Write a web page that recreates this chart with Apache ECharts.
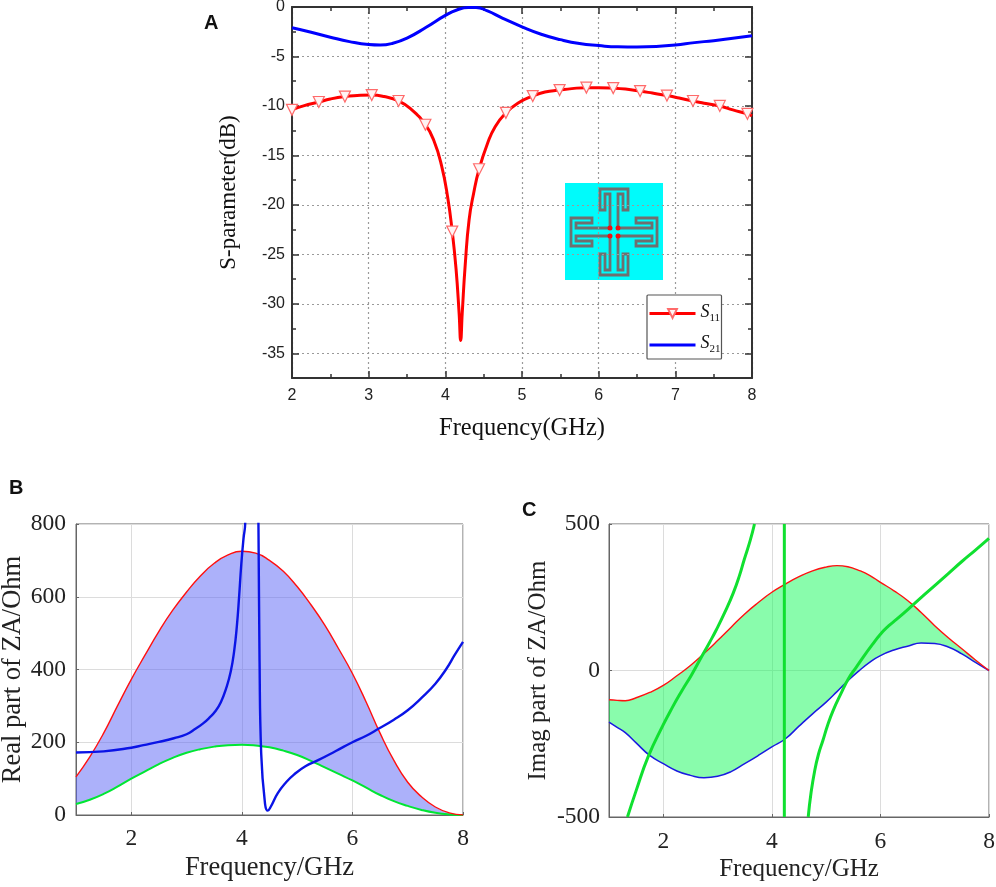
<!DOCTYPE html>
<html><head><meta charset="utf-8">
<style>html,body{margin:0;padding:0;background:#fff}#c{width:996px;height:887px}</style>
<script src="https://cdn.jsdelivr.net/npm/echarts@6/dist/echarts.min.js"></script>
</head><body><div id="c"></div>
<script>
// Panel A
const aS11Freq=[2,2.15,2.35,2.5,2.69,2.85,3.04,3.2,3.39,3.55,3.74,3.85,3.95,4.03,4.09,4.14,4.18,4.2,4.22,4.26,4.31,4.37,4.44,4.55,4.65,4.79,4.95,5.14,5.3,5.49,5.65,5.84,6,6.19,6.35,6.54,6.7,6.89,7.05,7.23,7.4,7.58,7.75,7.94,8];
const aS11=[-10.4,-10,-9.6,-9.3,-9.05,-8.95,-8.9,-9.05,-9.5,-10.3,-11.9,-13.5,-16,-19.2,-22.7,-26.5,-31,-33.7,-31,-26,-21.5,-18.8,-16.4,-13.8,-12.1,-10.7,-9.7,-9,-8.6,-8.4,-8.25,-8.15,-8.15,-8.2,-8.3,-8.5,-8.7,-8.95,-9.2,-9.5,-9.75,-10,-10.4,-10.8,-11];
const aMarkerFreq=[2,2.35,2.69,3.04,3.39,3.74,4.09,4.44,4.79,5.14,5.49,5.84,6.19,6.54,6.89,7.23,7.58,7.94];
const aS21Freq=[2,2.25,2.5,2.75,3,3.15,3.3,3.5,3.75,4,4.15,4.3,4.4,4.55,4.75,5,5.25,5.5,5.75,6,6.25,6.5,6.75,7,7.25,7.5,7.75,8];
const aS21=[-2.1,-2.55,-3.05,-3.5,-3.8,-3.85,-3.7,-3.15,-2.05,-0.85,-0.3,-0.05,-0.05,-0.4,-1.15,-2,-2.75,-3.3,-3.7,-3.9,-4.03,-4.05,-4,-3.85,-3.6,-3.4,-3.15,-2.9];
// Panel B
const bFreq=[1,1.25,1.5,1.75,2,2.25,2.5,2.75,3,3.25,3.5,3.75,4,4.25,4.5,4.75,5,5.25,5.5,5.75,6,6.25,6.5,6.75,7,7.25,7.5,7.75,8];
const bUpper=[105,160,225,300,373,440,505,563,613,657,692,715,725,720,700,670,628,578,522,457,389,310,225,150,90,50,22,6,0];
const bLower=[30,42,58,78,100,120,140,157,171,181,188,192,193,191,186,177,165,149,131,113,95,75,55,38,25,14,6,1.5,0];
const bLineFreq=[1,1.5,2,2.22,2.5,2.77,3,3.16,3.3,3.41,3.52,3.62,3.72,3.8,3.86,3.91,3.95,3.99,4.03,4.06,4.08,4.28,4.3,4.32,4.35,4.42,4.47,4.52,4.65,4.8,4.95,5.15,5.37,5.7,6,6.25,6.47,6.75,7,7.25,7.5,7.7,7.85,8];
const bLine=[172,175,185,192,201,211,222,237,252,267,285,310,350,395,450,520,600,690,760,800,1000,1000,800,425,168,30,12,22,60,90,112,134,150,176,200,218,237,262,288,322,361,402,440,476];
// Panel C
const cFreq=[1,1.15,1.3,1.5,1.75,2,2.25,2.5,2.75,3,3.25,3.5,3.75,4,4.25,4.5,4.75,5,5.2,5.4,5.6,5.8,6,6.25,6.5,6.75,7,7.25,7.5,7.75,8];
const cUpper=[-100,-102,-103,-93,-75,-51,-18,17,58,102,148,193,232,267,295,320,340,353,358,354,342,325,301,272,239,198,153,112,74,36,0];
const cLower=[-176,-194,-212,-247,-290,-318,-343,-358,-366,-361,-345,-318,-290,-261,-233,-190,-148,-108,-72,-35,-2,28,51,70,83,94,92,80,57,28,0];
const cLineA=[[1.34,-500],[1.5,-410],[1.72,-295],[2,-185],[2.17,-125],[2.34,-70],[2.52,-15],[2.7,45],[2.85,95],[2.98,140],[3.15,205],[3.29,265],[3.4,322],[3.49,378],[3.6,443],[3.68,500]];
const cLineB=[[4.23,-500],[4.23,500]];
const cLineC=[[4.67,-500],[4.72,-420],[4.79,-341],[4.86,-285],[4.94,-239],[5.03,-185],[5.13,-136],[5.27,-80],[5.41,-28],[5.55,10],[5.68,45],[5.85,88],[6,124],[6.15,152],[6.3,175],[6.63,229],[7,290],[7.25,331],[7.5,372],[7.75,411],[8,451]];

const zip=(xs,ys)=>xs.map((x,i)=>[x,ys[i]]);
const serif='"Liberation Serif"', sans='"Liberation Sans"';
const frameA='#333', frameB='#666', gridB='#dcdcdc';
const SMOOTH=0.5;
const dotted={show:true,lineStyle:{color:'#9a9a9a',type:[2,3],width:1.2}};

function majorY(position,show){return {gridIndex:0,type:'value',position,min:-37.5,max:0,splitNumber:7,
  axisLine:{show:true,onZero:false,lineStyle:{color:frameA,width:2}},
  axisTick:{show:true,inside:true,length:7,lineStyle:{color:frameA,width:1.5}},
  axisLabel:{show,showMinLabel:false,fontFamily:sans,fontSize:16,color:'#222',margin:7},
  splitLine:show?dotted:{show:false},
  name:show?'S-parameter(dB)':'',nameLocation:'middle',nameGap:52,nameTextStyle:{fontFamily:serif,fontSize:23,color:'#111'}};}
function minorY(position){return {gridIndex:0,type:'value',position,min:-37.5,max:0,interval:2.5,
  axisLine:{show:false},axisTick:{show:true,inside:true,length:4,lineStyle:{color:frameA,width:1.5}},
  axisLabel:{show:false},splitLine:{show:false}};}
function xA(position,show){return {gridIndex:0,type:'value',position,min:2,max:8,interval:1,
  axisLine:{show:true,onZero:false,lineStyle:{color:frameA,width:2}},
  axisTick:{show:true,inside:true,length:7,lineStyle:{color:frameA,width:1.5}},
  minorTick:{show:true,splitNumber:2,length:4,lineStyle:{color:frameA,width:1.5}},
  axisLabel:{show,fontFamily:sans,fontSize:16,color:'#222',margin:10,hideOverlap:false},
  splitLine:show?dotted:{show:false},
  name:show?'Frequency(GHz)':'',nameLocation:'middle',nameGap:38,nameTextStyle:{fontFamily:serif,fontSize:24.5,color:'#111'}};}
function xM(g,nameSize,margin){return {gridIndex:g,type:'value',min:1,max:8,splitNumber:4,
  axisLine:{show:true,onZero:false,lineStyle:{color:frameB}},
  axisTick:{show:true,inside:true,length:3,lineStyle:{color:frameB}},
  axisLabel:{showMinLabel:false,fontFamily:serif,fontSize:23.5,color:'#222',margin},
  splitLine:{show:true,lineStyle:{color:gridB,width:1}},
  name:'Frequency/GHz',nameLocation:'middle',nameGap:40,nameTextStyle:{fontFamily:serif,fontSize:nameSize,color:'#222'}};}
function yM(g,min,max,interval,name,gap,nameSize,margin){return {gridIndex:g,type:'value',min,max,interval,
  axisLine:{show:true,onZero:false,lineStyle:{color:frameB}},
  axisTick:{show:true,inside:true,length:3,lineStyle:{color:frameB}},
  axisLabel:{fontFamily:serif,fontSize:23.5,color:'#222',margin,padding:[5,0,0,0]},
  splitLine:{show:true,lineStyle:{color:gridB,width:1}},
  name,nameLocation:'middle',nameGap:gap,nameTextStyle:{fontFamily:serif,fontSize:nameSize,color:'#222'}};}
function line(x,y,data,color,width,extra){return Object.assign({type:'line',xAxisIndex:x,yAxisIndex:y,data,symbol:'none',
  smooth:SMOOTH,clip:true,z:3,lineStyle:{color,width},itemStyle:{color}},extra||{});}

// same curve construction as the smoothed line series, sampled, so the band edge meets the lines
function smoothEdge(pts){
  const out=[pts[0]];let c0=pts[0];const n=pts.length;
  for(let i=1;i<n;i++){
    const [x,y]=pts[i],[px,py]=pts[i-1];let c1=[x,y],next=[x,y];
    if(i<n-1){
      const [nx,ny]=pts[i+1];
      const l0=Math.hypot(x-px,y-py),l1=Math.hypot(nx-x,ny-y),r=l1/(l0+l1);
      const clamp=(v,a,b)=>Math.max(Math.min(v,Math.max(a,b)),Math.min(a,b));
      let ncx=clamp(x+(nx-px)*SMOOTH*r,nx,x),ncy=clamp(y+(ny-py)*SMOOTH*r,ny,y);
      let cx1=clamp(x-(ncx-x)*l0/l1,px,x),cy1=clamp(y-(ncy-y)*l0/l1,py,y);
      c1=[cx1,cy1];next=[x+(x-cx1)*l1/l0,y+(y-cy1)*l1/l0];
    }
    for(let k=1;k<=12;k++){const t=k/12,u=1-t;
      out.push([u*u*u*px+3*u*u*t*c0[0]+3*u*t*t*c1[0]+t*t*t*x,u*u*u*py+3*u*u*t*c0[1]+3*u*t*t*c1[1]+t*t*t*y]);}
    c0=next;
  }
  return out;
}
function band(xi,yi,freq,upper,lower,fill){return {type:'custom',coordinateSystem:'cartesian2d',xAxisIndex:xi,yAxisIndex:yi,z:1,silent:true,
  data:freq.map((x,i)=>[x,lower[i],upper[i]]),encode:{x:0,y:[1,2]},
  renderItem:(p,api)=>{
    if(p.dataIndex!==0)return null;
    const up=smoothEdge(freq.map((x,i)=>api.coord([x,upper[i]])));
    const lo=smoothEdge(freq.map((x,i)=>api.coord([x,lower[i]])));
    return {type:'polygon',shape:{points:up.concat(lo.reverse())},style:{fill}};
  }};}

// inset: cyan substrate carrying the four meander arms
const armPts=[[-4,-5],[-4,-38],[-9,-38],[-9,-22],[-14,-22],[-14,-43],[14,-43],[14,-22],[9,-22],[9,-38],[4,-38],[4,-5]];
const rot=[([x,y])=>[x,y],([x,y])=>[-y,x],([x,y])=>[x,-y],([x,y])=>[y,x]];
const cx=49,cy=49;
const inset={type:'group',x:565,y:183,z:20,children:[
  {type:'rect',shape:{x:0,y:0,width:98,height:97},style:{fill:'#00fbfb'}},
  ...rot.map(f=>({type:'polyline',shape:{points:armPts.map(p=>{const q=f(p);return [cx+q[0],cy+q[1]];})},
     style:{stroke:'#6f6f6f',lineWidth:2.8,fill:null}})),
  ...[[-4,-4],[4,-4],[-4,4],[4,4]].map(([dx,dy])=>({type:'circle',shape:{cx:cx+dx,cy:cy+dy,r:2.5},style:{fill:'#f01010'}}))
]};

const option={
  animation:false,backgroundColor:'#fff',
  title:[
    {text:'A',left:204,top:13},{text:'B',left:9,top:478},{text:'C',left:522,top:500}
  ].map(t=>Object.assign(t,{padding:0,textStyle:{fontFamily:sans,fontWeight:'bold',fontSize:20,color:'#111'}})),
  grid:[
    {left:292,top:7,width:460,height:371,outerBoundsMode:'none'},
    {left:76,top:524,width:387,height:291,outerBoundsMode:'none',show:true,borderColor:frameB,borderWidth:1,backgroundColor:'transparent'},
    {left:609,top:524,width:380,height:293,outerBoundsMode:'none',show:true,borderColor:frameB,borderWidth:1,backgroundColor:'transparent'}
  ],
  xAxis:[xA('bottom',true),xA('top',false),xM(1,26.5,12),xM(2,25,13)],
  yAxis:[majorY('left',true),majorY('right',false),minorY('left'),minorY('right'),
    yM(1,0,800,200,'Real part of ZA/Ohm',47,26.5,10),
    yM(2,-500,500,500,'Imag part of ZA/Ohm',58,25,9)],
  legend:{show:true,orient:'vertical',left:647,top:295,itemWidth:46,itemHeight:11,itemGap:11,
    padding:[8,1,4,1],backgroundColor:'#fff',borderColor:'#555',borderWidth:1.2,borderRadius:1,z:30,
    lineStyle:{width:3},
    data:['S11',{name:'S21',itemStyle:{color:'transparent',borderWidth:0,borderColor:'transparent'}}],
    formatter:n=>'{s|S}{b|'+n.slice(1)+'}',
    textStyle:{rich:{s:{fontFamily:serif,fontStyle:'italic',fontSize:18,color:'#111',padding:[0,0,3,0]},
                     b:{fontFamily:serif,fontSize:11,color:'#111',padding:[9,0,0,0]}}}},
  series:[
    line(0,0,aS11Freq.map((x,i)=>aMarkerFreq.includes(x)?[x,aS11[i]]:{value:[x,aS11[i]],symbol:'none'}),'#ff0000',3,
      {name:'S11',symbol:'triangle',symbolSize:11,symbolRotate:180,showSymbol:true,showAllSymbol:true,
       itemStyle:{color:'#fff4f4',borderColor:'#ff6a6a',borderWidth:1.2},clip:false}),
    line(0,0,zip(aS21Freq,aS21),'#0000ff',3,{name:'S21'}),
    band(2,4,bFreq,bUpper,bLower,'rgba(90,100,245,0.5)'),
    line(2,4,zip(bFreq,bLower),'#00e633',2,{z:2}),
    line(2,4,zip(bFreq,bUpper),'#ff1010',1.4,{z:2}),
    line(2,4,zip(bLineFreq,bLine),'#0a14e6',2.4),
    band(3,5,cFreq,cUpper,cLower,'rgba(20,250,90,0.5)'),
    line(3,5,zip(cFreq,cLower),'#1a1ae0',1.5,{z:2}),
    line(3,5,zip(cFreq,cUpper),'#ff1010',1.4,{z:2}),
    line(3,5,cLineA,'#10e030',3),
    line(3,5,cLineB,'#10e030',3,{smooth:false}),
    line(3,5,cLineC,'#10e030',3)
  ],
  graphic:[inset]
};
const chart=echarts.init(document.getElementById('c'),null,{renderer:'canvas'});
chart.setOption(option);
</script></body></html>
